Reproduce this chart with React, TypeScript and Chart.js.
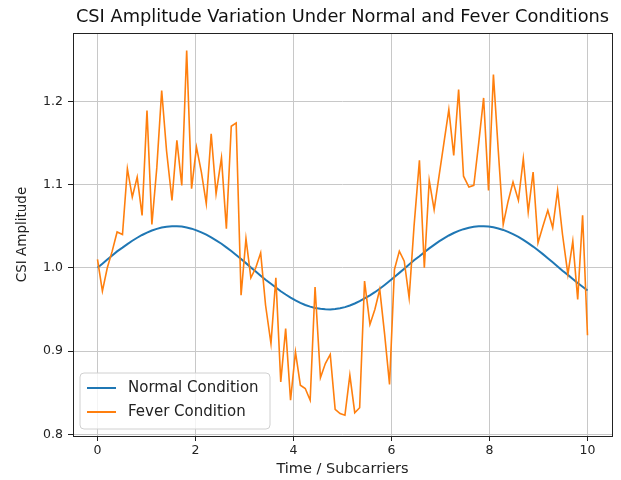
import React, { useEffect, useRef } from "react";
import { Chart, registerables } from "chart.js";

Chart.register(...registerables);

const chartTitle = "CSI Amplitude Variation Under Normal and Fever Conditions";
const xAxisLabel = "Time / Subcarriers";
const yAxisLabel = "CSI Amplitude";
const seriesNames = ["Normal Condition", "Fever Condition"];
const xTickValues = [0, 2, 4, 6, 8, 10];
const yTickValues = [0.8, 0.9, 1.0, 1.1, 1.2];

const timeSteps = [
  0.0, 0.1, 0.2, 0.3, 0.4, 0.51, 0.61, 0.71, 0.81, 0.91,
  1.01, 1.11, 1.21, 1.31, 1.41, 1.52, 1.62, 1.72, 1.82, 1.92,
  2.02, 2.12, 2.22, 2.32, 2.42, 2.53, 2.63, 2.73, 2.83, 2.93,
  3.03, 3.13, 3.23, 3.33, 3.43, 3.54, 3.64, 3.74, 3.84, 3.94,
  4.04, 4.14, 4.24, 4.34, 4.44, 4.55, 4.65, 4.75, 4.85, 4.95,
  5.05, 5.15, 5.25, 5.35, 5.45, 5.56, 5.66, 5.76, 5.86, 5.96,
  6.06, 6.16, 6.26, 6.36, 6.46, 6.57, 6.67, 6.77, 6.87, 6.97,
  7.07, 7.17, 7.27, 7.37, 7.47, 7.58, 7.68, 7.78, 7.88, 7.98,
  8.08, 8.18, 8.28, 8.38, 8.48, 8.59, 8.69, 8.79, 8.89, 8.99,
  9.09, 9.19, 9.29, 9.39, 9.49, 9.6, 9.7, 9.8, 9.9, 10.0,
];

const normalCondition = [
  1.0, 1.005, 1.01, 1.0149, 1.0197, 1.0242, 1.0285, 1.0325, 1.0361, 1.0394,
  1.0423, 1.0448, 1.0468, 1.0484, 1.0494, 1.0499, 1.0499, 1.0495, 1.0485, 1.047,
  1.045, 1.0426, 1.0398, 1.0365, 1.0329, 1.0289, 1.0246, 1.0201, 1.0154, 1.0105,
  1.0056, 1.0005, 0.9955, 0.9905, 0.9856, 0.9808, 0.9763, 0.9719, 0.9679, 0.9642,
  0.9609, 0.9579, 0.9554, 0.9534, 0.9518, 0.9507, 0.9501, 0.95, 0.9505, 0.9514,
  0.9528, 0.9547, 0.9571, 0.9599, 0.9632, 0.9668, 0.9707, 0.9749, 0.9794, 0.9841,
  0.989, 0.9939, 0.999, 1.004, 1.009, 1.0139, 1.0187, 1.0233, 1.0276, 1.0317,
  1.0354, 1.0388, 1.0418, 1.0443, 1.0464, 1.0481, 1.0492, 1.0499, 1.05, 1.0496,
  1.0487, 1.0473, 1.0455, 1.0431, 1.0404, 1.0372, 1.0336, 1.0297, 1.0255, 1.0211,
  1.0164, 1.0115, 1.0066, 1.0015, 0.9965, 0.9915, 0.9866, 0.9818, 0.9772, 0.9728,
];

const feverCondition = [
  1.01, 0.972, 1.0, 1.02, 1.043, 1.04, 1.119, 1.085, 1.109, 1.063,
  1.189, 1.052, 1.12, 1.213, 1.14, 1.081, 1.153, 1.099, 1.261, 1.095,
  1.145, 1.115, 1.077, 1.161, 1.089, 1.132, 1.047, 1.17, 1.174, 0.967,
  1.035, 0.988, 1.0, 1.018, 0.955, 0.909, 0.988, 0.863, 0.927, 0.841,
  0.899, 0.859, 0.855, 0.841, 0.977, 0.868, 0.885, 0.896, 0.83, 0.825,
  0.823, 0.871, 0.826, 0.832, 0.984, 0.932, 0.95, 0.974, 0.92, 0.86,
  0.998, 1.02, 1.008, 0.964, 1.05, 1.129, 1.0, 1.105, 1.07, 1.11,
  1.15, 1.19, 1.135, 1.214, 1.11, 1.097, 1.099, 1.15, 1.204, 1.093,
  1.232, 1.14, 1.052, 1.08, 1.103, 1.081, 1.131, 1.067, 1.115, 1.03,
  1.05, 1.069, 1.048, 1.093, 1.04, 0.992, 1.032, 0.962, 1.063, 0.919,
];

const seriesColors = ["#1f77b4", "#ff7f0e"];
const FONT = "'DejaVu Sans', sans-serif";

const framePlugin = {
  id: "mplFrame",
  afterDraw(chart: any) {
    const { ctx, chartArea } = chart;
    const { left, right, top, bottom } = chartArea;
    ctx.save();
    ctx.strokeStyle = "#222";
    ctx.lineWidth = 1;
    ctx.strokeRect(Math.round(left) + 0.5, Math.round(top) + 0.5, Math.round(right - left), Math.round(bottom - top));
    ctx.fillStyle = "#111";
    ctx.font = `17.8px ${FONT}`;
    ctx.textAlign = "center";
    ctx.textBaseline = "middle";
    ctx.fillText(chartTitle, (left + right) / 2, 17);
    const bx = left + 7;
    const by = bottom - 63;
    const bw = 190;
    const bh = 56;
    const r = 4;
    ctx.beginPath();
    ctx.moveTo(bx + r, by);
    ctx.lineTo(bx + bw - r, by);
    ctx.quadraticCurveTo(bx + bw, by, bx + bw, by + r);
    ctx.lineTo(bx + bw, by + bh - r);
    ctx.quadraticCurveTo(bx + bw, by + bh, bx + bw - r, by + bh);
    ctx.lineTo(bx + r, by + bh);
    ctx.quadraticCurveTo(bx, by + bh, bx, by + bh - r);
    ctx.lineTo(bx, by + r);
    ctx.quadraticCurveTo(bx, by, bx + r, by);
    ctx.closePath();
    ctx.fillStyle = "rgba(255,255,255,0.8)";
    ctx.fill();
    ctx.strokeStyle = "#d0d0d0";
    ctx.lineWidth = 1;
    ctx.stroke();
    ctx.font = `15px ${FONT}`;
    ctx.textAlign = "left";
    seriesNames.forEach((name, i) => {
      const y = by + 15 + i * 24;
      ctx.strokeStyle = seriesColors[i];
      ctx.lineWidth = 2;
      ctx.beginPath();
      ctx.moveTo(bx + 7, y);
      ctx.lineTo(bx + 36, y);
      ctx.stroke();
      ctx.fillStyle = "#222";
      ctx.fillText(name, bx + 48, y);
    });
    ctx.restore();
  },
};

export default function App() {
  const ref = useRef<HTMLCanvasElement | null>(null);
  useEffect(() => {
    document.body.style.margin = "0";
    if (!ref.current) return;
    const chart = new Chart(ref.current, {
      type: "line",
      data: {
        datasets: [
          {
            label: seriesNames[0],
            data: timeSteps.map((x, i) => ({ x, y: normalCondition[i] })),
            borderColor: seriesColors[0],
            borderWidth: 2,
            pointRadius: 0,
            tension: 0,
            fill: false,
            order: 2,
          },
          {
            label: seriesNames[1],
            data: timeSteps.map((x, i) => ({ x, y: feverCondition[i] })),
            borderColor: seriesColors[1],
            borderWidth: 1.6,
            pointRadius: 0,
            tension: 0,
            fill: false,
            order: 1,
          },
        ],
      },
      options: {
        responsive: false,
        animation: false,
        devicePixelRatio: 1,
        layout: { padding: { left: 0, right: 9, top: 33, bottom: 0 } },
        plugins: {
          legend: { display: false },
          title: { display: false },
          tooltip: { enabled: false },
        },
        scales: {
          x: {
            type: "linear",
            min: -0.5,
            max: 10.5,
            afterBuildTicks: (axis: any) => {
              axis.ticks = xTickValues.map((v) => ({ value: v }));
            },
            afterFit: (axis: any) => {
              axis.height = 44;
            },
            ticks: {
              color: "#222",
              font: { family: FONT, size: 12.5 },
              padding: 2,
              callback: (v: any) => String(v),
            },
            grid: {
              color: "#c8c8c8",
              lineWidth: 1,
              tickColor: "#222",
              tickLength: 5,
            },
            border: { display: false },
            title: {
              display: true,
              text: xAxisLabel,
              color: "#222",
              font: { family: FONT, size: 14.5 },
              padding: { top: 0, bottom: 2 },
            },
          },
          y: {
            type: "linear",
            min: 0.798,
            max: 1.282,
            afterBuildTicks: (axis: any) => {
              axis.ticks = yTickValues.map((v) => ({ value: v }));
            },
            afterFit: (axis: any) => {
              axis.width = 73;
            },
            ticks: {
              color: "#222",
              font: { family: FONT, size: 12.5 },
              padding: 5,
              callback: (v: any) => Number(v).toFixed(1),
            },
            grid: {
              color: "#c8c8c8",
              lineWidth: 1,
              tickColor: "#222",
              tickLength: 5,
            },
            border: { display: false },
            title: {
              display: true,
              text: yAxisLabel,
              color: "#222",
              font: { family: FONT, size: 13.5 },
              padding: { top: 14, bottom: 0 },
            },
          },
        },
      },
      plugins: [framePlugin],
    });
    return () => chart.destroy();
  }, []);
  return (
    <div style={{ width: 621, height: 480 }}>
      <canvas ref={ref} width={621} height={480} style={{ display: "block", width: 621, height: 480 }} />
    </div>
  );
}
